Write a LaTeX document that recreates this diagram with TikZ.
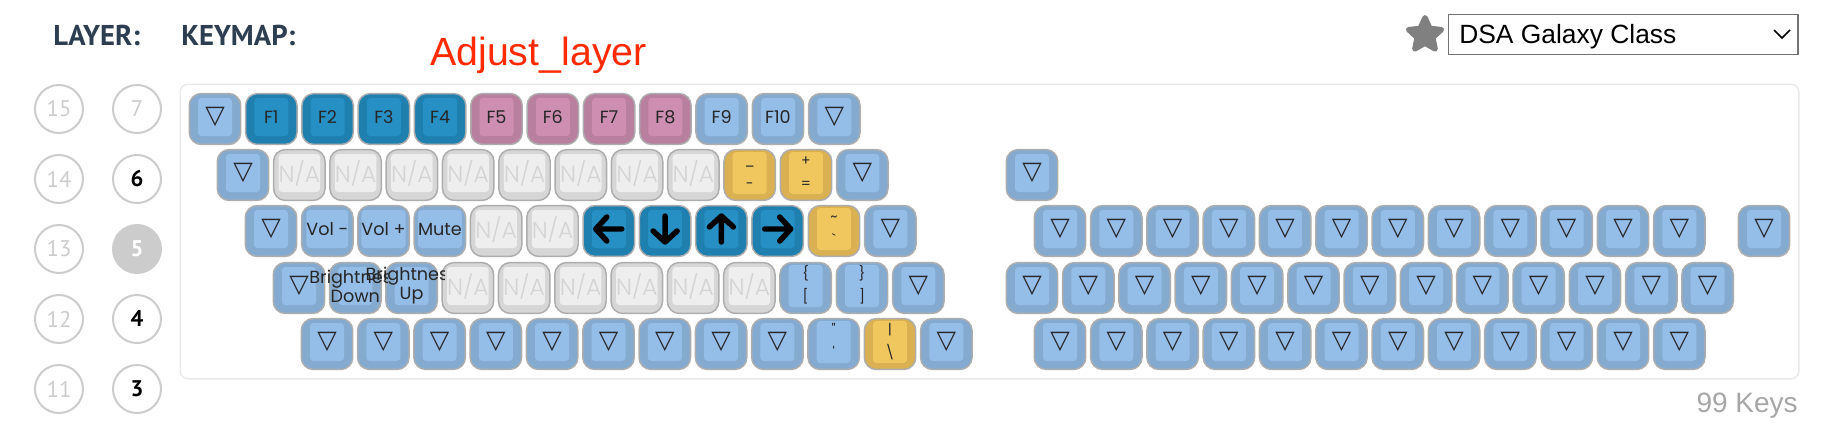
\documentclass[tikz,border=0pt]{standalone}
\usepackage{fontspec}
\usetikzlibrary{shapes.geometric}
\setmainfont{Liberation Sans}
\newfontfamily\keyfont{Poppins}
\newfontfamily\keylight{Poppins Light}
\newfontfamily\headfont{PT Sans}
\newfontfamily\symfont{DejaVu Sans}

\definecolor{bluerim}{HTML}{85AACF}
\definecolor{blueface}{HTML}{94BDE8}
\definecolor{darkrim}{HTML}{1F7FAE}
\definecolor{darkface}{HTML}{268FC4}
\definecolor{pinkrim}{HTML}{B97F9F}
\definecolor{pinkface}{HTML}{CE8EB2}
\definecolor{greyrim}{HTML}{D6D6D6}
\definecolor{greyface}{HTML}{EEEEEE}
\definecolor{goldrim}{HTML}{D9B052}
\definecolor{goldface}{HTML}{F0C75E}
\definecolor{headblue}{HTML}{2C3E50}

\newcommand{\tri}{{\symfont\fontsize{19}{19}\selectfont ▽}}
\newcommand{\na}{{\keylight\fontsize{17.5}{17.5}\selectfont\color{black!17}N/A}}
\newcommand{\twoleg}[2]{{\fontsize{10.5}{14.25}\selectfont\shortstack{\strut #1\\\strut #2}}}

\tikzset{
    keybase/.style={draw=black!32, line width=1.1pt, rounded corners=9pt, inner sep=0pt,
        minimum width=38.6pt, minimum height=38.2pt},
    keyface/.style={rounded corners=2.5pt, inner sep=0pt, minimum width=25.5pt, minimum height=28.5pt,
        font=\keyfont\fontsize{13.2}{14.25}\selectfont, text=black!85, align=center},
    layerdim/.style={circle, draw=black!20, line width=1.5pt, minimum size=36pt, inner sep=0pt,
        text=black!20, font=\headfont\fontsize{17}{17}\selectfont},
    layeron/.style={layerdim, text=black, font=\headfont\bfseries\fontsize{17}{17}\selectfont},
    layercur/.style={layeron, fill=black!20, text=white},
    headtext/.style={text=headblue, anchor=west, inner sep=0pt, font=\headfont\bfseries\fontsize{21.5}{22}\selectfont},
    arrowmark/.style={line width=4.1pt, line cap=round, line join=round, black}
}

% #1 row name, #2 y, #3 first x, #4 list of colour/text
\newcommand{\keyrow}[4]{
    \foreach \c/\t [count=\i from 0] in {#4} {
        \pgfmathsetmacro{\xk}{#3+56.3*\i}
        \node[keybase, fill=\c rim] (#1k\i) at (\xk,#2) {};
        \node[keyface, fill=\c face] (#1k\i-in) at ([yshift=1.5pt]#1k\i) {\t};
    }
}

\begin{document}
\begin{tikzpicture}[x=0.75pt, y=-0.75pt]
    \useasboundingbox (0,0) rectangle (1821,432);

    \node[headtext] (layerhead) at (53,35) {LAYER:};
    \node[headtext] (keymaphead) at (181,35) {KEYMAP:};
    \node[text={rgb,255:red,255;green,42;blue,0}, anchor=west, inner sep=0pt, font=\fontsize{29.5}{30}\selectfont]
        (title) at (430,55) {Adjust\_layer};

    \node[fill=black!50, draw=black!50, line width=4pt, line join=round, star, star points=5,
        star point ratio=2.1, minimum size=26pt, inner sep=0pt] (star) at (1425,35) {};
    \node[draw=black!55, line width=0.8pt, minimum width=262pt, minimum height=30pt, inner sep=0pt] (select) at (1623.3,34.3) {};
    \node[anchor=west, inner sep=0pt, font=\fontsize{19.8}{20}\selectfont] (selecttext) at (1459,37) {DSA Galaxy Class};
    \draw[line width=1.1pt] (1774,30) -- (1782,38) -- (1790,30);

    \node[draw=black!9, fill=white, line width=1pt, rounded corners=6pt, minimum width=1214pt, minimum height=221pt,
        inner sep=0pt] (panel) at (989.5,231.5) {};

    \foreach \n/\cx/\cy/\s in {15/59/109/layerdim, 14/59/179/layerdim, 13/59/249/layerdim, 12/59/319/layerdim, 11/59/389/layerdim,
        7/137/109/layerdim, 6/137/179/layeron, 5/137/249/layercur, 4/137/319/layeron, 3/137/389/layeron} {
        \node[\s] (layer\n) at (\cx,\cy) {\n};
    }

    \keyrow{a}{119}{215}{blue/\tri, dark/F1, dark/F2, dark/F3, dark/F4, pink/F5, pink/F6, pink/F7, pink/F8, blue/F9, blue/F10, blue/\tri}
    \keyrow{b}{175}{243}{blue/\tri, grey/\na, grey/\na, grey/\na, grey/\na, grey/\na, grey/\na, grey/\na, grey/\na,
        gold/\twoleg{\_}{-}, gold/\twoleg{+}{=}, blue/\tri}
    \keyrow{c}{231}{271}{blue/\tri, blue/Vol -, blue/Vol +, blue/Mute, grey/\na, grey/\na, dark/{}, dark/{}, dark/{}, dark/{},
        gold/\twoleg{\textasciitilde}{\textasciigrave}, blue/\tri}
    \keyrow{d}{288}{299}{blue/\tri, blue/{}, blue/{}, grey/\na, grey/\na, grey/\na, grey/\na, grey/\na, grey/\na,
        blue/\twoleg{\{}{[}, blue/\twoleg{\}}{]}, blue/\tri}
    \keyrow{e}{344}{327}{blue/\tri, blue/\tri, blue/\tri, blue/\tri, blue/\tri, blue/\tri, blue/\tri, blue/\tri, blue/\tri,
        blue/\twoleg{\textquotedbl}{\textquotesingle}, gold/\twoleg{|}{\textbackslash}, blue/\tri}

    \keyrow{f}{175}{1032}{blue/\tri}
    \keyrow{g}{231}{1060}{blue/\tri, blue/\tri, blue/\tri, blue/\tri, blue/\tri, blue/\tri, blue/\tri, blue/\tri, blue/\tri, blue/\tri, blue/\tri, blue/\tri}
    \keyrow{h}{231}{1764}{blue/\tri}
    \keyrow{i}{288}{1032}{blue/\tri, blue/\tri, blue/\tri, blue/\tri, blue/\tri, blue/\tri, blue/\tri, blue/\tri, blue/\tri, blue/\tri, blue/\tri, blue/\tri, blue/\tri}
    \keyrow{j}{344}{1060}{blue/\tri, blue/\tri, blue/\tri, blue/\tri, blue/\tri, blue/\tri, blue/\tri, blue/\tri, blue/\tri, blue/\tri, blue/\tri, blue/\tri}

    \foreach \k/\a in {6/180, 7/-90, 8/90, 9/0} {
        \draw[arrowmark, shift={(ck\k-in)}, rotate=\a] (-13,0) -- (13,0) (2,-12) -- (13,0) -- (2,12);
    }

    % the long legends run out of their keys and are cut a little past the edge
    \foreach \k/\t in {1/Down, 2/Up} {
        \begin{scope}
            \clip ([xshift=-30pt, yshift=10pt]dk\k.north west) rectangle ([xshift=4.5pt]dk\k.south east);
            \node[keyface, minimum width=0pt, minimum height=0pt] (dlabel\k) at (dk\k-in) {Brightness\\\t};
        \end{scope}
    }

    \node[anchor=east, inner sep=0pt, text=black!35, font=\fontsize{21}{21}\selectfont] (keycount) at (1798,406) {99 Keys};
\end{tikzpicture}
\end{document}
